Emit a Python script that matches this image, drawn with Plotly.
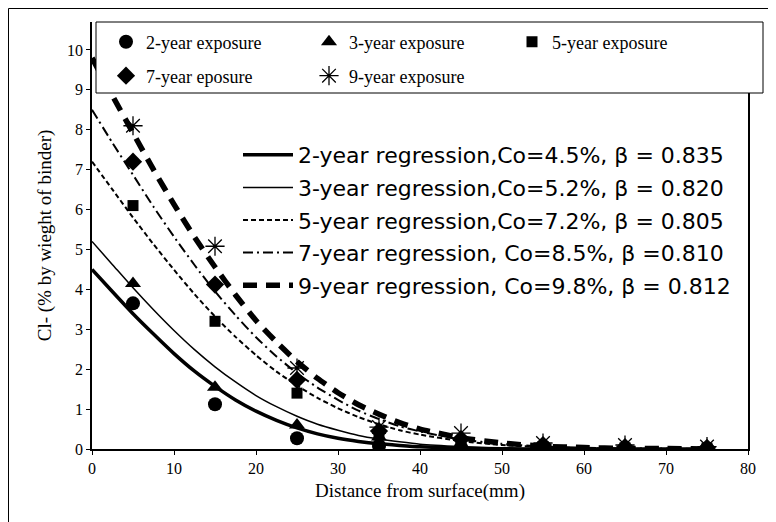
import plotly.graph_objects as go

# ---------------- data ----------------
distance_pts = [5, 15, 25, 35, 45, 55, 65, 75]
exp2 = [3.65, 1.12, 0.27, 0.08, 0.04, 0.02, 0.01, 0.01]
exp3 = [4.15, 1.55, 0.60, 0.30, 0.12, 0.05, 0.02, 0.01]
exp5 = [6.10, 3.20, 1.40, 0.35, 0.18, 0.06, 0.03, 0.02]
exp7 = [7.20, 4.12, 1.73, 0.45, 0.25, 0.10, 0.05, 0.03]
exp9 = [8.10, 5.08, 2.03, 0.55, 0.40, 0.15, 0.10, 0.06]

distance_curve = [0, 2.5, 5, 7.5, 10, 12.5, 15, 17.5, 20, 22.5, 25, 27.5,
                  30, 32.5, 35, 37.5, 40, 45, 50, 55, 60, 65, 70, 75]
reg2 = [4.5, 3.94, 3.39, 2.88, 2.39, 1.95, 1.57, 1.23, 0.95, 0.72, 0.53, 0.38,
        0.27, 0.19, 0.13, 0.09, 0.055, 0.02, 0.007, 0, 0, 0, 0, 0]
reg3 = [5.2, 4.62, 4.04, 3.49, 2.97, 2.49, 2.06, 1.68, 1.34, 1.06, 0.82, 0.62,
        0.47, 0.34, 0.25, 0.18, 0.12, 0.06, 0.02, 0.01, 0, 0, 0, 0]
reg5 = [7.2, 6.5, 5.8, 5.13, 4.49, 3.88, 3.32, 2.81, 2.35, 1.94, 1.59, 1.28,
        1.02, 0.8, 0.62, 0.47, 0.36, 0.2, 0.1, 0.05, 0.02, 0.01, 0, 0]
reg7 = [8.5, 7.67, 6.87, 6.07, 5.32, 4.61, 3.95, 3.35, 2.8, 2.32, 1.9, 1.54,
        1.23, 0.96, 0.75, 0.57, 0.44, 0.24, 0.13, 0.06, 0.03, 0.01, 0.01, 0]
reg9 = [9.8, 8.85, 7.92, 7.0, 6.13, 5.31, 4.56, 3.86, 3.22, 2.68, 2.19, 1.77,
        1.41, 1.11, 0.87, 0.66, 0.5, 0.28, 0.15, 0.07, 0.035, 0.015, 0.01, 0]

exposure_names = ["2-year exposure", "3-year exposure", "5-year exposure",
                  "7-year eposure", "9-year exposure"]
regression_names = ["2-year regression,Co=4.5%, \u03b2 = 0.835",
                    "3-year regression,Co=5.2%, \u03b2 = 0.820",
                    "5-year regression,Co=7.2%, \u03b2 = 0.805",
                    "7-year regression, Co=8.5%, \u03b2 =0.810",
                    "9-year regression, Co=9.8%, \u03b2 = 0.812"]
x_ticks = [0, 10, 20, 30, 40, 50, 60, 70, 80]
y_ticks = [0, 1, 2, 3, 4, 5, 6, 7, 8, 9, 10]

# ---------------- figure ----------------
OFF = 8                       # page body margin
W, H = 768, 514
ML, MR, MT, MB = 84, 28, 14, 73
PW, PH = W - ML - MR, H - MT - MB

def px_x(p):                  # page pixel -> paper x
    return (p - OFF - ML) / PW

def px_y(p):                  # page pixel -> paper y
    return (H - MB - (p - OFF)) / PH

SERIF = "Liberation Serif, Times New Roman, serif"
SANS = "DejaVu Sans, Arial, sans-serif"

fig = go.Figure()

curve_styles = [
    dict(width=3.5, dash="solid"),
    dict(width=1.5, dash="solid"),
    dict(width=2, dash="5px,3px"),
    dict(width=2, dash="10px,4px,2px,4px"),
    dict(width=5.5, dash="14px,9px"),
]
for i, (yv, nm) in enumerate(zip([reg2, reg3, reg5, reg7, reg9], regression_names)):
    fig.add_trace(go.Scatter(
        x=distance_curve, y=yv, mode="lines", name=nm,
        line=dict(color="black", shape="spline", smoothing=0.6, **curve_styles[i]),
        legend="legend2", legendgroup="r%d" % i, hoverinfo="skip"))

marker_styles = [
    dict(symbol="circle", size=14),
    dict(symbol="triangle-up", size=14),
    dict(symbol="square", size=11),
    dict(symbol="diamond", size=14),
    dict(symbol="asterisk-open", size=16, line=dict(color="black", width=1.3)),
]
legend_of = ["legend", "legend", "legend", "legend3", "legend3"]
for i, (yv, nm) in enumerate(zip([exp2, exp3, exp5, exp7, exp9], exposure_names)):
    fig.add_trace(go.Scatter(
        x=distance_pts, y=yv, mode="markers", name=nm,
        marker=dict(color="black", **marker_styles[i]),
        legend=legend_of[i]))

# legend box for the exposure legend (opaque, covers the plot top)
fig.add_shape(type="rect", xref="paper", yref="paper", layer="above",
              x0=px_x(96), x1=px_x(763), y0=px_y(93), y1=px_y(22),
              fillcolor="white", line=dict(color="black", width=1))
# outer frame (left and top edges visible)
fig.add_shape(type="line", xref="paper", yref="paper",
              x0=px_x(8.5), x1=px_x(8.5), y0=px_y(8.5), y1=px_y(522),
              line=dict(color="black", width=1))
fig.add_shape(type="line", xref="paper", yref="paper",
              x0=px_x(8.5), x1=px_x(776), y0=px_y(8.5), y1=px_y(8.5),
              line=dict(color="black", width=1))

leg_common = dict(orientation="h", xanchor="left", yanchor="middle",
                  bgcolor="rgba(0,0,0,0)", borderwidth=0,
                  font=dict(family=SERIF, size=18, color="black"),
                  entrywidth=158, entrywidthmode="pixels", itemwidth=30)

fig.update_layout(
    width=W, height=H,
    margin=dict(l=ML, r=MR, t=MT, b=MB),
    paper_bgcolor="white", plot_bgcolor="white",
    font=dict(family=SERIF, color="black", size=16),
    showlegend=True,
    legend=dict(x=px_x(106), y=px_y(42), **leg_common),
    legend3=dict(x=px_x(106), y=px_y(76), **leg_common),
    legend2=dict(
        x=px_x(238), y=px_y(134), xanchor="left", yanchor="top",
        bgcolor="rgba(0,0,0,0)", borderwidth=0,
        font=dict(family=SANS, size=22, color="black"),
        tracegroupgap=1, itemwidth=50,
    ),
    xaxis=dict(
        range=[0, 80], tickvals=x_ticks, ticks="outside", ticklen=4,
        tickcolor="black", showline=True, linecolor="black", linewidth=1.5,
        showgrid=False, zeroline=False,
        tickfont=dict(family=SERIF, size=16),
        title=dict(text="Distance from surface(mm)", font=dict(family=SERIF, size=19), standoff=8),
    ),
    yaxis=dict(
        range=[0, 10.7], tickvals=y_ticks, ticks="outside", ticklen=4,
        tickcolor="black", showline=True, linecolor="black", linewidth=1.5,
        mirror=True, showgrid=False, zeroline=False,
        tickfont=dict(family=SERIF, size=16),
        title=dict(text="Cl- (% by wieght of binder)", font=dict(family=SERIF, size=19), standoff=10),
    ),
)

fig.write_html("out.html")
